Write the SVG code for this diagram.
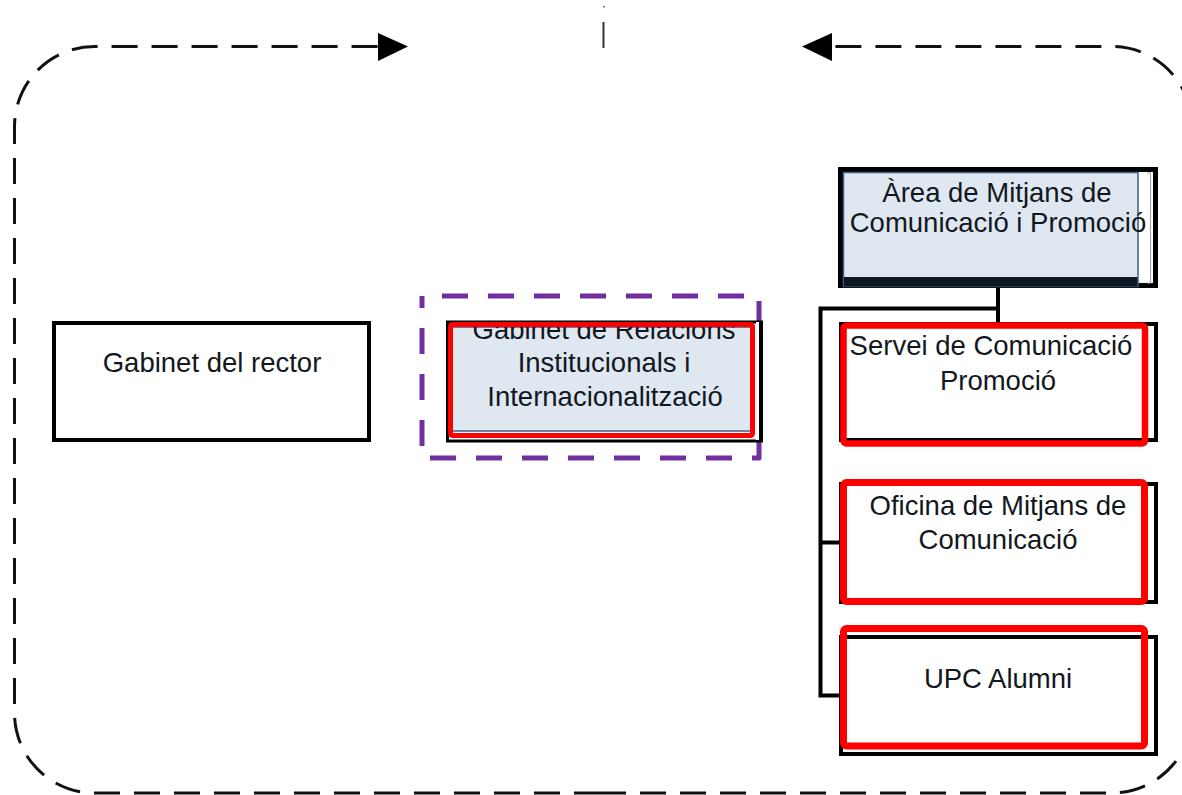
<svg xmlns="http://www.w3.org/2000/svg" width="1182" height="795" viewBox="0 0 1182 795">
  <style>
    .lbl { font-family: "Liberation Sans", Arial, sans-serif; font-size: 27.5px; fill: #121820; text-anchor: middle; }
    .loop { fill: none; stroke: #111; stroke-width: 3; stroke-dasharray: 26 14; }
    .frame { fill: #fff; stroke: #000; stroke-width: 4; }
    .red { fill: none; stroke: #ff0000; stroke-linejoin: round; }
    .blue { fill: #dfe7f1; stroke: #3d5e88; stroke-width: 1.5; }
    .conn { fill: none; stroke: #000; stroke-width: 4; stroke-linejoin: miter; }
  </style>
  <defs>
    <clipPath id="clipGR">
      <rect x="451" y="327" width="302" height="104"/>
    </clipPath>
  </defs>
  <rect x="0" y="0" width="1182" height="795" fill="#fff"/>

  <g id="loop">
    <path class="loop" d="M 600 793 H 94.5 A 80 80 0 0 1 14.5 713 V 126.5 A 80 80 0 0 1 94.5 46.5 H 380"/>
    <polygon points="378,33 408,46.5 378,61" fill="#000"/>
    <path class="loop" d="M 600 793 H 1112 A 80 80 0 0 0 1192 713 V 126.5 A 80 80 0 0 0 1112 46.5 H 830"/>
    <polygon points="832,33 802,46.5 832,61" fill="#000"/>
    <line x1="603.5" y1="22" x2="603.5" y2="48" stroke="#333" stroke-width="2"/>
    <rect x="603" y="6" width="2" height="1.5" fill="#777"/>
  </g>

  <g id="connectors">
    <line class="conn" x1="998" y1="286" x2="998" y2="324"/>
    <polyline class="conn" points="998,308.5 820.5,308.5 820.5,695.5 841,695.5"/>
    <line class="conn" x1="820.5" y1="542.5" x2="841" y2="542.5"/>
  </g>

  <g id="gabinet-rector">
    <rect class="frame" x="54" y="323" width="315" height="117"/>
    <text class="lbl" x="212" y="372">Gabinet del rector</text>
  </g>

  <g id="gabinet-relacions">
    <path d="M 422 296 H 759 V 458 H 422 Z" fill="none" stroke="#7030a0" stroke-width="5" stroke-dasharray="26 20" stroke-dashoffset="-20" stroke-linejoin="round"/>
    <rect x="447.5" y="322" width="314" height="119" fill="#fff" stroke="#000" stroke-width="3"/>
    <rect x="756" y="322" width="6" height="118" fill="#fff"/>
    <line x1="761" y1="322" x2="761" y2="441" stroke="#000" stroke-width="4"/>
    <rect class="blue" x="451" y="327" width="302" height="104"/>
    <g clip-path="url(#clipGR)">
      <text class="lbl" x="604" y="339">Gabinet de Relacions</text>
    </g>
    <text class="lbl" x="604" y="372">Institucionals i</text>
    <text class="lbl" x="605" y="406">Internacionalització</text>
    <rect class="red" x="450.5" y="324.5" width="302" height="111" stroke-width="5" rx="2"/>
  </g>

  <g id="area-mitjans">
    <rect x="840.5" y="169.5" width="315" height="116" fill="#fff" stroke="#000" stroke-width="5"/>
    <rect class="blue" x="843.5" y="172.5" width="294.5" height="114"/>
    <rect x="844" y="277" width="293.5" height="9.5" fill="#0e1822"/>
    <path d="M 1147 173 H 1150.5 V 283 H 1147" fill="none" stroke="#aaa" stroke-width="1.2"/>
    <text class="lbl" x="997" y="202">Àrea de Mitjans de</text>
    <text class="lbl" x="998" y="232">Comunicació i Promoció</text>
  </g>

  <g id="servei-comunicacio">
    <rect class="frame" x="841" y="324" width="315" height="116"/>
    <rect class="red" x="843.5" y="325.5" width="301.5" height="118" stroke-width="6.5" rx="3"/>
    <text class="lbl" x="991" y="355">Servei de Comunicació</text>
    <text class="lbl" x="998" y="390">Promoció</text>
  </g>

  <g id="oficina-mitjans">
    <rect class="frame" x="841" y="484" width="315" height="118"/>
    <rect class="red" x="843.5" y="482.5" width="301" height="119" stroke-width="7" rx="3"/>
    <text class="lbl" x="998" y="515">Oficina de Mitjans de</text>
    <text class="lbl" x="998" y="549">Comunicació</text>
  </g>

  <g id="upc-alumni">
    <rect class="frame" x="841" y="637" width="315" height="117"/>
    <rect class="red" x="843.5" y="628.5" width="301" height="117.5" stroke-width="7" rx="3"/>
    <text class="lbl" x="998" y="688">UPC Alumni</text>
  </g>
</svg>
